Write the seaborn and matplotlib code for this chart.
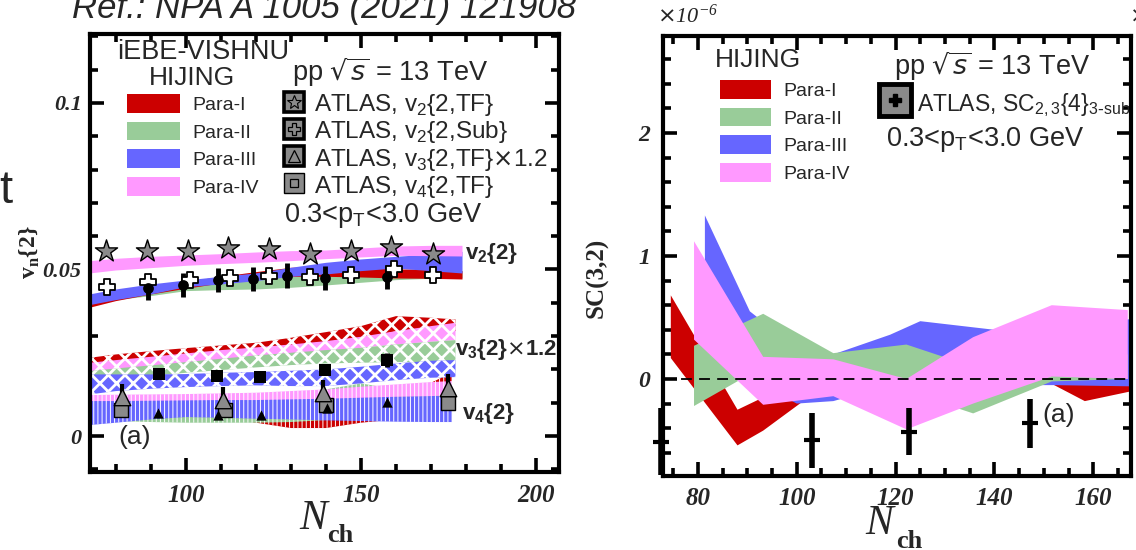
import matplotlib
matplotlib.use("Agg")
import numpy as np
import pandas as pd
import matplotlib.pyplot as plt
import seaborn as sns
from matplotlib.patches import Patch
from matplotlib.lines import Line2D
from matplotlib.ticker import MultipleLocator

sns.set_theme(style="ticks")
plt.rcParams["font.family"] = ["Liberation Sans", "DejaVu Sans"]
plt.rcParams["mathtext.fontset"] = "dejavusans"

# ------------------------------------------------------------------
# Panel (a): v_n{2} vs N_ch  (model bands)
# ------------------------------------------------------------------
N_band = [72.5, 80, 90, 100, 110, 120, 130, 140, 150, 160, 170, 179]
v2_p1_lo = [0.0385, 0.0405, 0.0425, 0.0442, 0.0458, 0.0468, 0.0478, 0.0478, 0.0476, 0.0473, 0.0472, 0.0470]
v2_p1_hi = [0.0405, 0.0425, 0.0445, 0.0462, 0.0478, 0.0492, 0.0505, 0.0508, 0.0505, 0.0500, 0.0500, 0.0495]
v2_p2_lo = [0.0395, 0.0408, 0.0420, 0.0435, 0.0438, 0.0440, 0.0445, 0.0452, 0.0460, 0.0468, 0.0472, 0.0474]
v2_p2_hi = [0.0412, 0.0425, 0.0440, 0.0455, 0.0465, 0.0472, 0.0478, 0.0482, 0.0485, 0.0490, 0.0493, 0.0495]
v2_p3_lo = [0.0393, 0.0408, 0.0425, 0.0447, 0.0455, 0.0465, 0.0478, 0.0485, 0.0495, 0.0503, 0.0495, 0.0488]
v2_p3_hi = [0.0425, 0.0440, 0.0455, 0.0467, 0.0478, 0.0488, 0.0505, 0.0520, 0.0530, 0.0538, 0.0545, 0.0553]
v2_p4_lo = [0.0488, 0.0497, 0.0504, 0.0511, 0.0516, 0.0520, 0.0525, 0.0531, 0.0536, 0.0541, 0.0540, 0.0539]
v2_p4_hi = [0.0525, 0.0532, 0.0538, 0.0542, 0.0546, 0.0551, 0.0555, 0.0557, 0.0563, 0.0569, 0.0571, 0.0571]

N_v3 = [72.5, 80, 90, 100, 110, 120, 130, 140, 150, 160, 170, 177]
v3_p1_lo = [0.0205, 0.0215, 0.0225, 0.0235, 0.0243, 0.0252, 0.0262, 0.0275, 0.0290, 0.0315, 0.0318, 0.0315]
v3_p1_hi = [0.0235, 0.0245, 0.0255, 0.0264, 0.0272, 0.0280, 0.0295, 0.0312, 0.0330, 0.0360, 0.0355, 0.0350]
v3_p2_lo = [0.0162, 0.0170, 0.0180, 0.0190, 0.0198, 0.0206, 0.0213, 0.0218, 0.0220, 0.0222, 0.0222, 0.0220]
v3_p2_hi = [0.0195, 0.0203, 0.0212, 0.0222, 0.0232, 0.0242, 0.0250, 0.0258, 0.0265, 0.0275, 0.0283, 0.0288]
v3_p3_lo = [0.0125, 0.0135, 0.0142, 0.0147, 0.0150, 0.0152, 0.0150, 0.0150, 0.0158, 0.0168, 0.0175, 0.0177]
v3_p3_hi = [0.0185, 0.0185, 0.0185, 0.0186, 0.0190, 0.0192, 0.0196, 0.0200, 0.0208, 0.0218, 0.0226, 0.0228]
v3_p4_lo = [0.0190, 0.0198, 0.0207, 0.0216, 0.0225, 0.0235, 0.0245, 0.0255, 0.0265, 0.0275, 0.0283, 0.0288]
v3_p4_hi = [0.0220, 0.0228, 0.0238, 0.0248, 0.0258, 0.0266, 0.0275, 0.0285, 0.0298, 0.0315, 0.0330, 0.0340]

N_v4 = [72.5, 80, 90, 100, 110, 120, 130, 140, 150, 160, 170, 176]
v4_p1_lo = [0.0045, 0.0048, 0.0052, 0.0058, 0.0056, 0.0040, 0.0024, 0.0024, 0.0040, 0.0050, 0.0055, 0.0060]
v4_p1_hi = [0.0062, 0.0063, 0.0065, 0.0066, 0.0068, 0.0070, 0.0072, 0.0075, 0.0080, 0.0090, 0.0160, 0.0190]
v4_p2_lo = [0.0045, 0.0045, 0.0042, 0.0040, 0.0040, 0.0040, 0.0042, 0.0048, 0.0055, 0.0060, 0.0060, 0.0060]
v4_p2_hi = [0.0070, 0.0072, 0.0075, 0.0078, 0.0080, 0.0085, 0.0100, 0.0140, 0.0158, 0.0140, 0.0125, 0.0120]
v4_p3_lo = [0.0033, 0.0040, 0.0050, 0.0057, 0.0055, 0.0052, 0.0050, 0.0047, 0.0045, 0.0043, 0.0042, 0.0042]
v4_p3_hi = [0.0114, 0.0114, 0.0114, 0.0115, 0.0115, 0.0116, 0.0116, 0.0117, 0.0118, 0.0119, 0.0120, 0.0120]
v4_p4_lo = [0.0105, 0.0105, 0.0106, 0.0107, 0.0108, 0.0108, 0.0110, 0.0112, 0.0115, 0.0118, 0.0120, 0.0122]
v4_p4_hi = [0.0123, 0.0124, 0.0125, 0.0126, 0.0128, 0.0130, 0.0135, 0.0140, 0.0148, 0.0155, 0.0162, 0.0165]

# ATLAS points
N_v2tf = [77.1, 88.8, 100.6, 112.0, 123.7, 135.4, 147.1, 158.5, 170.7]
v2_tf = [0.0556, 0.0556, 0.0556, 0.0565, 0.0561, 0.0547, 0.0556, 0.0568, 0.0547]
N_v2sub = [77.3, 89.2, 101.1, 112.6, 123.7, 135.4, 147.1, 159.4, 170.7]
v2_sub = [0.0448, 0.0463, 0.0468, 0.0475, 0.0480, 0.0478, 0.0483, 0.0501, 0.0483]
N_v2c = [89.2, 99.2, 109.2, 119.1, 128.9, 139.7, 157.5]
v2_c = [0.0444, 0.0453, 0.0468, 0.0471, 0.0481, 0.0474, 0.0478]
v2_c_err = [0.0036, 0.0036, 0.0036, 0.0036, 0.0037, 0.0036, 0.0036]
N_v3sq = [92.4, 108.8, 121.1, 139.7, 157.5]
v3_sq = [0.0186, 0.0180, 0.0178, 0.0198, 0.0228]
v3_sq_err = [0.0, 0.0, 0.0, 0.0, 0.0022]
N_v3tf = [81.6, 110.7, 139.2, 174.9]
v3_tf = [0.0118, 0.0108, 0.0128, 0.0143]
v3_tf_err = [0.0038, 0.0038, 0.0040, 0.0042]
N_v4tf = [81.3, 111.0, 140.0, 174.9]
v4_tf = [0.0078, 0.0078, 0.0093, 0.0098]
N_v4t = [92.1, 109.2, 121.4, 140.2, 157.5]
v4_t = [0.0068, 0.0063, 0.0063, 0.0083, 0.0103]

# ------------------------------------------------------------------
# Panel (b): SC(3,2) vs N_ch (x 1e-6)
# ------------------------------------------------------------------
N_sc1 = [74.5, 88.0, 93.2, 107.4, 122.2, 135.7, 150.2, 158.3, 167.7]
sc1_lo = [0.17, -0.54, -0.42, 0.0, -0.20, -0.15, -0.01, -0.18, -0.10]
sc1_hi = [0.68, -0.25, -0.15, 0.12, 0.05, 0.0, 0.03, 0.0, -0.02]
N_sc2 = [79.2, 93.2, 107.4, 122.2, 135.7, 151.6, 167.0]
sc2_lo = [-0.22, 0.10, -0.05, -0.10, -0.28, -0.02, 0.0]
sc2_hi = [0.27, 0.53, 0.21, 0.28, 0.10, 0.15, 0.20]
N_sc3 = [81.4, 90.5, 100.0, 107.4, 118.9, 125.0, 140.0, 152.0, 167.7]
sc3_lo = [0.50, 0.0, -0.20, -0.18, -0.05, 0.0, -0.05, -0.05, -0.06]
sc3_hi = [1.33, 0.55, 0.25, 0.20, 0.36, 0.47, 0.40, 0.35, 0.49]
N_sc4 = [79.2, 93.2, 107.4, 122.2, 135.7, 151.6, 167.0]
sc4_lo = [0.32, -0.21, -0.14, -0.41, -0.20, 0.02, 0.0]
sc4_hi = [1.12, 0.18, 0.16, 0.0, 0.34, 0.60, 0.56]
N_sc_atlas = [72.6, 103.1, 122.8, 147.2]
sc_atlas = [-0.51, -0.50, -0.43, -0.36]
sc_atlas_err = [0.27, 0.22, 0.19, 0.20]

para_labels = ["Para-I", "Para-II", "Para-III", "Para-IV"]
para_colors = ["#cc0000", "#99cc99", "#6666ff", "#ff99ff"]

# ------------------------------------------------------------------
W, H = 1136, 550
fig = plt.figure(figsize=(W / 100, H / 100), dpi=100)


def fx(x):
    return x / W


def fy(y):
    return 1 - y / H


axL = fig.add_axes([fx(90), fy(472), 469 / W, 438 / H])
axR = fig.add_axes([fx(663), fy(476), 468 / W, 440 / H])

serif_bi = dict(fontfamily="Liberation Serif", fontstyle="italic", fontweight="bold")


def style_axes(ax):
    for sp in ax.spines.values():
        sp.set_linewidth(3.0)
        sp.set_color("black")
        sp.set_visible(True)
        sp.set_zorder(10)
    ax.tick_params(which="both", direction="in", top=True, right=True,
                   color="black", width=2.6)
    ax.tick_params(which="major", length=10)
    ax.tick_params(which="minor", length=6)
    ax.set_facecolor("white")


def band(ax, x, lo, hi, color, hatch=None, hlw=1.0, z=1):
    with plt.rc_context({"hatch.linewidth": hlw, "hatch.color": "white"}):
        coll = ax.fill_between(x, lo, hi, facecolor=color,
                               edgecolor="white" if hatch else "none",
                               hatch=hatch, linewidth=0, zorder=z)
    return coll


# ---------------- left panel ----------------
style_axes(axL)
axL.set_xlim(72.57, 206.57)
axL.set_ylim(-0.0108, 0.1207)
axL.set_xticks([100, 150, 200], ["100", "150", "200"], fontsize=18, **serif_bi)
axL.set_yticks([0, 0.05, 0.1], ["0", "0.05", "0.1"], fontsize=16, **serif_bi)
axL.xaxis.set_minor_locator(MultipleLocator(10))
axL.yaxis.set_minor_locator(MultipleLocator(0.01))
axL.tick_params(axis="x", which="major", pad=9)
axL.tick_params(axis="y", which="major", pad=6)

# v4 bands (vertical-stripe fill)
for lo, hi, c in [(v4_p1_lo, v4_p1_hi, para_colors[0]), (v4_p2_lo, v4_p2_hi, para_colors[1]),
                  (v4_p3_lo, v4_p3_hi, para_colors[2]), (v4_p4_lo, v4_p4_hi, para_colors[3])]:
    band(axL, N_v4, lo, hi, c, hatch="||||", hlw=0.7, z=1)
# v3 bands (woven fill)
for lo, hi, c in [(v3_p1_lo, v3_p1_hi, para_colors[0]), (v3_p4_lo, v3_p4_hi, para_colors[3]),
                  (v3_p2_lo, v3_p2_hi, para_colors[1]), (v3_p3_lo, v3_p3_hi, para_colors[2])]:
    band(axL, N_v3, lo, hi, c, hatch="xx", hlw=2.0, z=1.5)
# v2 bands (solid)
for lo, hi, c in [(v2_p2_lo, v2_p2_hi, para_colors[1]), (v2_p1_lo, v2_p1_hi, para_colors[0]),
                  (v2_p3_lo, v2_p3_hi, para_colors[2]), (v2_p4_lo, v2_p4_hi, para_colors[3])]:
    band(axL, N_band, lo, hi, c, z=2)

gray = "#8a8a8a"
axL.errorbar(N_v2c, v2_c, yerr=v2_c_err, fmt="none", ecolor="black", elinewidth=3.5, capsize=0, zorder=4)
axL.errorbar(N_v3sq, v3_sq, yerr=v3_sq_err, fmt="none", ecolor="black", elinewidth=3.5, capsize=0, zorder=4)
axL.errorbar(N_v3tf, v3_tf, yerr=v3_tf_err, fmt="none", ecolor="black", elinewidth=3.0, capsize=0, zorder=4)

sns.scatterplot(x=N_v2tf, y=v2_tf, ax=axL, marker="*", s=280, color=gray,
                edgecolor="black", linewidth=1.0, zorder=5, legend=False)
sns.scatterplot(x=N_v2sub, y=v2_sub, ax=axL, marker="P", s=140, color="white",
                edgecolor="black", linewidth=1.3, zorder=5, legend=False)
sns.scatterplot(x=N_v2c, y=v2_c, ax=axL, marker="o", s=60, color="black",
                edgecolor="black", linewidth=0, zorder=6, legend=False)
sns.scatterplot(x=N_v3sq, y=v3_sq, ax=axL, marker="s", s=70, color="black",
                edgecolor="black", linewidth=0, zorder=5, legend=False)
sns.scatterplot(x=N_v4tf, y=v4_tf, ax=axL, marker="s", s=95, color=gray,
                edgecolor="black", linewidth=1.0, zorder=5, legend=False)
sns.scatterplot(x=N_v3tf, y=v3_tf, ax=axL, marker="^", s=140, color=gray,
                edgecolor="black", linewidth=1.0, zorder=6, legend=False)
sns.scatterplot(x=N_v4t, y=v4_t, ax=axL, marker="^", s=55, color="black",
                edgecolor="black", linewidth=0, zorder=6, legend=False)

# legends
para_handles = [Patch(facecolor=c, edgecolor="none") for c in para_colors]
legA = axL.legend(para_handles, para_labels, loc="upper left",
                  bbox_to_anchor=((127 - 90) / 469, 1 - (94 - 34) / 438),
                  frameon=False, fontsize=14, handlelength=2.7, handleheight=1.1,
                  handletextpad=0.65, labelspacing=0.4, borderpad=0, borderaxespad=0)
axL.add_artist(legA)

box_kw = dict(marker="s", markersize=15, markerfacecolor=gray, markeredgecolor="black",
              markeredgewidth=2.6, linestyle="none")
h_star = (Line2D([], [], **box_kw),
          Line2D([], [], marker="*", markersize=10, markerfacecolor=gray,
                 markeredgecolor="black", markeredgewidth=0.8, linestyle="none"))
h_cross = (Line2D([], [], **box_kw),
           Line2D([], [], marker="P", markersize=8, markerfacecolor=gray,
                  markeredgecolor="black", markeredgewidth=0.9, linestyle="none"))
h_tri = (Line2D([], [], **box_kw),
         Line2D([], [], marker="^", markersize=9, markerfacecolor=gray,
                markeredgecolor="black", markeredgewidth=0.9, linestyle="none"))
h_sq = (Line2D([], [], marker="s", markersize=15, markerfacecolor=gray, markeredgecolor="black",
               markeredgewidth=1.0, linestyle="none"),
        Line2D([], [], marker="s", markersize=6, markerfacecolor=gray,
               markeredgecolor="black", markeredgewidth=0.9, linestyle="none"))
atlas_labels = [r"ATLAS, v$_\mathregular{2}${2,TF}", r"ATLAS, v$_\mathregular{2}${2,Sub}",
                r"ATLAS, v$_\mathregular{3}${2,TF}$\times$1.2", r"ATLAS, v$_\mathregular{4}${2,TF}"]
legB = axL.legend([h_star, h_cross, h_tri, h_sq], atlas_labels, loc="upper left",
                  bbox_to_anchor=((282 - 90) / 469, 1 - (92 - 34) / 438),
                  frameon=False, fontsize=17.5, handlelength=1.0, handleheight=1.0,
                  handletextpad=0.3, labelspacing=0.04, borderpad=0, borderaxespad=0,
                  numpoints=1)

axL.text((203 - 90) / 469, 1 - (52 - 34) / 438, "iEBE-VISHNU", transform=axL.transAxes,
         ha="center", va="center", fontsize=19.5)
axL.text((192 - 90) / 469, 1 - (78 - 34) / 438, "HIJING", transform=axL.transAxes,
         ha="center", va="center", fontsize=19)
axL.text((292 - 90) / 469, 1 - (72 - 34) / 438, r"pp $\sqrt{s}$ = 13 TeV", transform=axL.transAxes,
         ha="left", va="center", fontsize=19.5)
axL.text((284 - 90) / 469, 1 - (215 - 34) / 438, r"0.3<p$_\mathregular{T}$<3.0 GeV",
         transform=axL.transAxes, ha="left", va="center", fontsize=19.5)
axL.text((465 - 90) / 469, 1 - (254 - 34) / 438, r"v$_\mathregular{2}${2}", transform=axL.transAxes,
         ha="left", va="center", fontsize=16, fontweight="bold")
axL.text((455 - 90) / 469, 1 - (350 - 34) / 438, r"v$_\mathregular{3}${2}$\times$1.2",
         transform=axL.transAxes, ha="left", va="center", fontsize=16, fontweight="bold")
axL.text((462 - 90) / 469, 1 - (413 - 34) / 438, r"v$_\mathregular{4}${2}", transform=axL.transAxes,
         ha="left", va="center", fontsize=16, fontweight="bold")
axL.text((118 - 90) / 469, 1 - (437 - 34) / 438, "(a)", transform=axL.transAxes,
         ha="left", va="center", fontsize=19)

# ---------------- right panel ----------------
style_axes(axR)
axR.set_xlim(72.92, 167.65)
axR.set_ylim(-0.789, 2.789)
axR.set_xticks([80, 100, 120, 140, 160], ["80", "100", "120", "140", "160"], fontsize=18, **serif_bi)
axR.set_yticks([0, 1, 2], ["0", "1", "2"], fontsize=17, **serif_bi)
axR.xaxis.set_minor_locator(MultipleLocator(5))
axR.yaxis.set_minor_locator(MultipleLocator(0.2))
axR.tick_params(axis="x", which="major", pad=8)
axR.tick_params(axis="y", which="major", pad=9)

band(axR, N_sc1, sc1_lo, sc1_hi, para_colors[0], z=1)
band(axR, N_sc3, sc3_lo, sc3_hi, para_colors[2], z=1.2)
band(axR, N_sc2, sc2_lo, sc2_hi, para_colors[1], z=1.4)
band(axR, N_sc4, sc4_lo, sc4_hi, para_colors[3], z=1.6)
axR.axhline(0, color="black", lw=1.3, ls=(0, (6, 4)), zorder=3)
ebR = axR.errorbar(N_sc_atlas, sc_atlas, yerr=sc_atlas_err, fmt="_", color="black",
                   markersize=11, markeredgewidth=3, elinewidth=4, capsize=0, zorder=4)
for art in ebR.lines[2]:
    art.set_clip_on(False)
ebR.lines[0].set_clip_on(False)

legC = axR.legend(para_handles, para_labels, loc="upper left",
                  bbox_to_anchor=((720 - 663) / 468, 1 - (80 - 36) / 440),
                  frameon=False, fontsize=14, handlelength=2.6, handleheight=1.1,
                  handletextpad=0.65, labelspacing=0.4, borderpad=0, borderaxespad=0)
axR.add_artist(legC)
h_sc = (Line2D([], [], marker="s", markersize=23, markerfacecolor=gray, markeredgecolor="black",
               markeredgewidth=3.5, linestyle="none"),
        Line2D([], [], marker="P", markersize=9, markerfacecolor="black",
               markeredgecolor="black", linestyle="none"))
axR.legend([h_sc], [r"ATLAS, SC$_\mathregular{2,3}${4}$_\mathregular{3\text{-}sub}$"], loc="upper left",
           bbox_to_anchor=((878 - 663) / 468, 1 - (89 - 36) / 440),
           frameon=False, fontsize=16.5, handlelength=1.5, handleheight=1.6,
           handletextpad=0.2, borderpad=0, borderaxespad=0, numpoints=1)

axR.text((758 - 663) / 468, 1 - (60 - 36) / 440, "HIJING", transform=axR.transAxes,
         ha="center", va="center", fontsize=19)
axR.text((894 - 663) / 468, 1 - (66 - 36) / 440, r"pp $\sqrt{s}$ = 13 TeV", transform=axR.transAxes,
         ha="left", va="center", fontsize=19.5)
axR.text((886 - 663) / 468, 1 - (140 - 36) / 440, r"0.3<p$_\mathregular{T}$<3.0 GeV",
         transform=axR.transAxes, ha="left", va="center", fontsize=19.5)
axR.text((1042 - 663) / 468, 1 - (415 - 36) / 440, "(a)", transform=axR.transAxes,
         ha="left", va="center", fontsize=19)

# ---------------- figure-level labels ----------------
fig.text(fx(30), fy(252), r"v$_\mathregular{n}${2}", rotation=90, ha="center", va="center",
         fontsize=17, fontfamily="Liberation Serif", fontweight="bold")
fig.text(fx(597), fy(278), "SC(3,2)", rotation=90, ha="center", va="center",
         fontsize=18, fontfamily="Liberation Serif", fontweight="bold")
for xN, yN, xc, yc in [(313, 519, 340, 535), (879, 524, 909, 542)]:
    fig.text(fx(xN), fy(yN), "N", ha="center", va="center", fontsize=30,
             fontfamily="Liberation Serif", fontstyle="italic")
    fig.text(fx(xc), fy(yc), "ch", ha="center", va="center", fontsize=19,
             fontfamily="Liberation Serif", fontweight="bold")
fig.text(fx(657), fy(16), r"$\times$$\mathregular{10^{-6}}$", ha="left", va="center", fontsize=16,
         fontfamily="Liberation Serif", fontstyle="italic")
fig.text(fx(1129), fy(16), r"$\times$", ha="left", va="center", fontsize=16)
fig.text(fx(72), fy(18), "Ref.: NPA A 1005 (2021) 121908", ha="left", va="baseline",
         fontsize=25, fontstyle="italic")
fig.text(fx(-1), fy(203), "t", ha="left", va="baseline", fontsize=34)

fig.savefig("out.png", dpi=100, facecolor="white")
